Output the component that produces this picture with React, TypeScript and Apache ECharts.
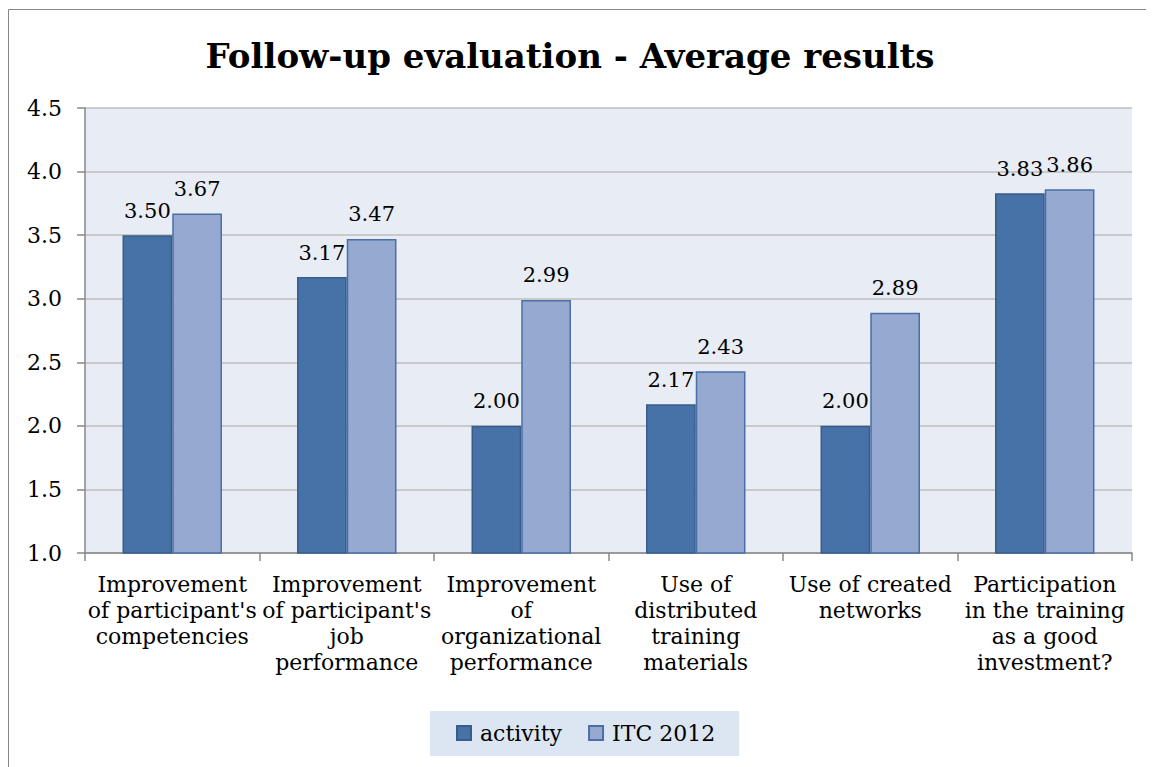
import React, { useEffect, useRef } from "react";
import * as echarts from "echarts";

const categories = [
  "Improvement\nof participant's\ncompetencies",
  "Improvement\nof participant's\njob\nperformance",
  "Improvement\nof\norganizational\nperformance",
  "Use of\ndistributed\ntraining\nmaterials",
  "Use of created\nnetworks",
  "Participation\nin the training\nas a good\ninvestment?",
];
const activity = [3.5, 3.17, 2.0, 2.17, 2.0, 3.83];
const itc2012 = [3.67, 3.47, 2.99, 2.43, 2.89, 3.86];
const seriesNames = ["activity", "ITC 2012"];
const titleText = "Follow-up evaluation - Average results";

const FONT = "DejaVu Serif";

export default function App() {
  const ref = useRef<HTMLDivElement>(null);
  useEffect(() => {
    document.body.style.overflow = "hidden";
    const chart = echarts.init(ref.current!, null, { renderer: "svg" });
    const label = {
      show: true,
      position: "top",
      distance: 14,
      fontFamily: FONT,
      fontSize: 21,
      color: "#000",
      formatter: (p: any) => Number(p.value).toFixed(2),
    };
    chart.setOption({
      animation: false,
      backgroundColor: "#fff",
      textStyle: { fontFamily: FONT },
      title: {
        text: titleText,
        left: 557,
        top: 26,
        textAlign: "center",
        textStyle: { fontFamily: FONT, fontWeight: "bold", fontSize: 34, color: "#000" },
      },
      graphic: [
        {
          type: "rect",
          shape: { x: 0.5, y: 1.5, width: 1300, height: 1000 },
          style: { fill: "none", stroke: "#868686", lineWidth: 1 },
          silent: true,
        },
      ],
      legend: {
        data: seriesNames,
        icon: "rect",
        left: 422,
        top: 703,
        itemWidth: 14,
        itemHeight: 14,
        itemGap: 26,
        backgroundColor: "#DCE6F2",
        padding: [11, 24, 12, 26],
        textStyle: { fontFamily: FONT, fontSize: 22, color: "#000", padding: [0, 0, 0, 4] },
      },
      grid: { left: 77, right: 22, top: 100, bottom: 214, containLabel: false, show: true, backgroundColor: "#E8ECF4", borderWidth: 0 },
      xAxis: {
        type: "category",
        data: categories,
        axisLine: { lineStyle: { color: "#888", width: 1.5 } },
        axisTick: { show: true, length: 8, lineStyle: { color: "#888", width: 1.5 } },
        axisLabel: { interval: 0, margin: 18, fontFamily: FONT, fontSize: 22, color: "#000", lineHeight: 26, align: "center" },
      },
      yAxis: {
        type: "value",
        min: 1,
        max: 4.5,
        interval: 0.5,
        axisLine: { show: true, lineStyle: { color: "#888", width: 1.5 } },
        axisTick: { show: true, length: 8, lineStyle: { color: "#888", width: 1.5 } },
        axisLabel: { margin: 23, fontFamily: FONT, fontSize: 22, color: "#000", formatter: (v: number) => v.toFixed(1) },
        splitLine: { lineStyle: { color: "#BEBEBE", width: 1.5 } },
      },
      series: [
        {
          name: seriesNames[0],
          type: "bar",
          data: activity,
          barGap: "0%",
          barCategoryGap: "43%",
          itemStyle: { color: "#4672A7", borderColor: "#385D8A", borderWidth: 1.5 },
          label,
        },
        {
          name: seriesNames[1],
          type: "bar",
          data: itc2012,
          itemStyle: { color: "#95A9D1", borderColor: "#4A6FA6", borderWidth: 1.5 },
          label,
        },
      ],
    });
    return () => chart.dispose();
  }, []);
  return <div ref={ref} style={{ width: 1146, height: 759 }} />;
}
